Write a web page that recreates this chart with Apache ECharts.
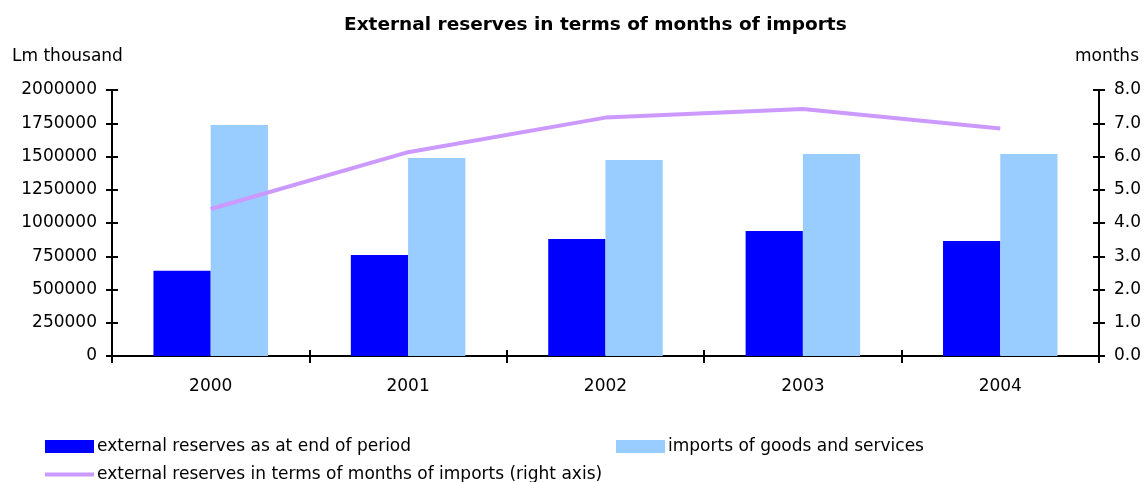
<!DOCTYPE html>
<html>
<head>
<meta charset="utf-8">
<script src="https://cdn.jsdelivr.net/npm/echarts@6/dist/echarts.min.js"></script>
<style>
  html, body { margin: 0; padding: 0; background: #fff; }
  #chart { width: 1144px; height: 482px; }
</style>
</head>
<body>
<div id="chart"></div>
<script>
const years = ['2000', '2001', '2002', '2003', '2004'];
const reserves = [641000, 759000, 880000, 940000, 865000];
const imports = [1737000, 1489000, 1474000, 1519000, 1519000];
const months = [4.42, 6.13, 7.17, 7.43, 6.84];

const font = 'DejaVu Sans, Arial, sans-serif';
const black = '#000';

const chart = echarts.init(document.getElementById('chart'));

// ticks that cross the axis: one axis draws outside, a twin draws inside
const twinY = (pos, max, interval) => ({
  type: 'value', position: pos, min: 0, max, interval,
  axisLine: { show: false },
  axisTick: { show: true, inside: true, length: 6, lineStyle: { color: black, width: 2 } },
  axisLabel: { show: false },
  splitLine: { show: false }
});

const legendText = { fontFamily: font, fontSize: 17, color: black, padding: [0, 0, 0, -2] };

chart.setOption({
  animation: false,
  textStyle: { fontFamily: font },
  title: [
    { text: 'External reserves in terms of months of imports', left: 344, top: 16, padding: 0,
      textStyle: { fontFamily: font, fontSize: 18.5, fontWeight: 'bold', color: black } },
    { text: 'Lm thousand', left: 12, top: 48, padding: 0,
      textStyle: { fontFamily: font, fontSize: 17, fontWeight: 'normal', color: black } },
    { text: 'months', right: 5, top: 48, padding: 0,
      textStyle: { fontFamily: font, fontSize: 17, fontWeight: 'normal', color: black } }
  ],
  legend: [
    { data: ['external reserves as at end of period'], left: 45, top: 438, padding: 0,
      itemWidth: 49, itemHeight: 13, itemGap: 0, icon: 'rect', textStyle: legendText },
    { data: ['imports of goods and services'], left: 616, top: 438, padding: 0,
      itemWidth: 49, itemHeight: 13, itemGap: 0, icon: 'rect', textStyle: legendText },
    { data: ['external reserves in terms of months of imports (right axis)'], left: 45, top: 466, padding: 0,
      itemWidth: 49, itemHeight: 4, itemGap: 0, icon: 'rect', textStyle: legendText }
  ],
  grid: { left: 112, right: 45, top: 90, bottom: 126 },
  xAxis: [
    {
      type: 'category', data: years,
      axisLine: { lineStyle: { color: black, width: 2 } },
      axisTick: { show: true, length: 7, lineStyle: { color: black, width: 2 } },
      axisLabel: { color: black, fontSize: 17, margin: 22, fontFamily: font },
      splitLine: { show: false }
    },
    {
      type: 'category', data: years, position: 'bottom',
      axisLine: { show: false },
      axisTick: { show: true, inside: true, length: 6, lineStyle: { color: black, width: 2 } },
      axisLabel: { show: false }
    }
  ],
  yAxis: [
    {
      type: 'value', position: 'left', min: 0, max: 2000000, interval: 250000,
      axisLine: { show: true, lineStyle: { color: black, width: 2 } },
      axisTick: { show: true, length: 6, lineStyle: { color: black, width: 2 } },
      axisLabel: { color: black, fontSize: 17, margin: 15, fontFamily: font,
        padding: [6, 0, 0, 0], formatter: v => String(v) },
      splitLine: { show: false }
    },
    {
      type: 'value', position: 'right', min: 0, max: 8, interval: 1,
      axisLine: { show: true, lineStyle: { color: black, width: 2 } },
      axisTick: { show: true, length: 6, lineStyle: { color: black, width: 2 } },
      axisLabel: { color: black, fontSize: 17, margin: 15, fontFamily: font,
        padding: [6, 0, 0, 0], formatter: v => v.toFixed(1) },
      splitLine: { show: false }
    },
    twinY('left', 2000000, 250000),
    twinY('right', 8, 1)
  ],
  series: [
    {
      name: 'external reserves as at end of period', type: 'bar', data: reserves,
      itemStyle: { color: '#0000ff' }, barGap: '0%', barCategoryGap: '42%'
    },
    {
      name: 'imports of goods and services', type: 'bar', data: imports,
      itemStyle: { color: '#99ccff' }
    },
    {
      name: 'external reserves in terms of months of imports (right axis)', type: 'line',
      yAxisIndex: 1, data: months, showSymbol: false, symbol: 'none',
      lineStyle: { color: '#cc99ff', width: 4 }, itemStyle: { color: '#cc99ff' }
    }
  ]
});
</script>
</body>
</html>
